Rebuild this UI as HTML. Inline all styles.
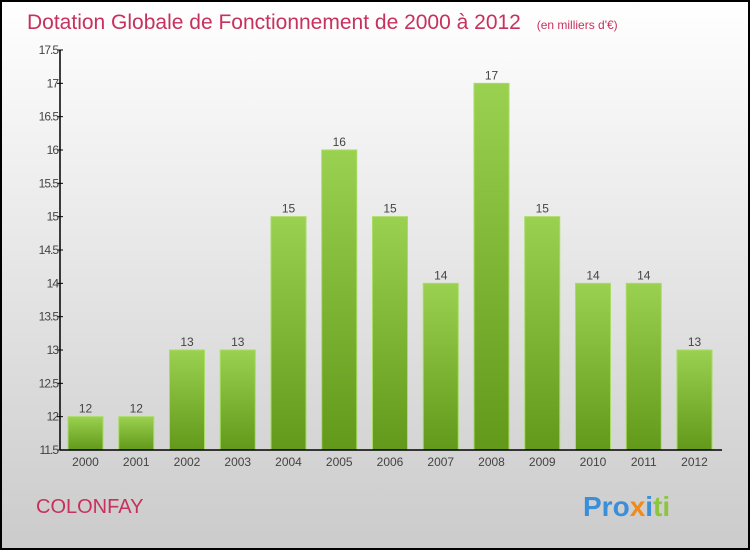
<!DOCTYPE html>
<html><head><meta charset="utf-8"><style>
html,body{margin:0;padding:0}
body{width:750px;height:550px;overflow:hidden;font-family:"Liberation Sans",sans-serif}
</style></head><body>
<svg id="chart" width="750" height="550" xmlns="http://www.w3.org/2000/svg">
<defs>
<linearGradient id="bg" x1="0" y1="0" x2="0" y2="1"><stop offset="0" stop-color="#ffffff"/><stop offset="1" stop-color="#cbcbcb"/></linearGradient>
<linearGradient id="bar" x1="0" y1="0" x2="0" y2="1"><stop offset="0" stop-color="#9ad150"/><stop offset="1" stop-color="#62991a"/></linearGradient>
</defs>
<rect x="1" y="1" width="748" height="548" fill="url(#bg)" stroke="#000" stroke-width="2"/>
<text x="27" y="29" font-size="21" fill="#c8305e">Dotation Globale de Fonctionnement de 2000 à 2012 <tspan font-size="12" dx="10">(en milliers d'€)</tspan></text>
<text x="36" y="513" font-size="20" fill="#c8305e">COLONFAY</text>
<text x="583" y="516" font-size="28" font-weight="bold"><tspan fill="#3a8fd8">Pro</tspan><tspan fill="#f08a1c">x</tspan><tspan fill="#3a8fd8">i</tspan><tspan fill="#8cc63f">ti</tspan></text>
<g id="plot"></g>
</svg>
<script>
const categories=["2000","2001","2002","2003","2004","2005","2006","2007","2008","2009","2010","2011","2012"];
const values=[12,12,13,13,15,16,15,14,17,15,14,14,13];
const yTicks=[11.5,12,12.5,13,13.5,14,14.5,15,15.5,16,16.5,17,17.5];
const NS="http://www.w3.org/2000/svg";
const g=document.getElementById('plot');
const x0=60,x1=722,yTop=50,yBot=450,yMin=11.5,yMax=17.5;
const step=50.75;
const y=v=>yBot-(v-yMin)/(yMax-yMin)*(yBot-yTop);
function mk(t,a){const e=document.createElementNS(NS,t);for(const k in a)e.setAttribute(k,a[k]);g.appendChild(e);return e;}
categories.forEach((c,i)=>{
  const bx=x0+i*step+8,bw=35,by=y(values[i]);
  const r=mk('rect',{x:bx,y:by,width:bw,height:yBot-by,fill:'url(#bar)',stroke:'#a8dc64','stroke-width':1});
  
  
  const t=mk('text',{x:bx+bw/2,y:by-4,'text-anchor':'middle','font-size':12,fill:'#444'});
  t.textContent=values[i];
  
  
  const xl=mk('text',{x:bx+bw/2,y:466,'text-anchor':'middle','font-size':12,fill:'#444'});
  xl.textContent=c;
  
  
});
yTicks.forEach(v=>{
  const yy=y(v);
  const l=mk('line',{x1:x0-3,x2:x0+3,y1:yy,y2:yy,stroke:'#000'});
  
  
  const t=mk('text',{x:x0-2,y:yy+4,'text-anchor':'end','font-size':12,fill:'#444','letter-spacing':'-1'});
  t.textContent=v;
  
  
});
const ya=mk('line',{x1:x0,x2:x0,y1:yTop,y2:yBot,stroke:'#000','stroke-width':1.5});


const xa=mk('line',{x1:x0,x2:x1,y1:yBot,y2:yBot,stroke:'#000','stroke-width':1.5});


</script>
</body></html>
